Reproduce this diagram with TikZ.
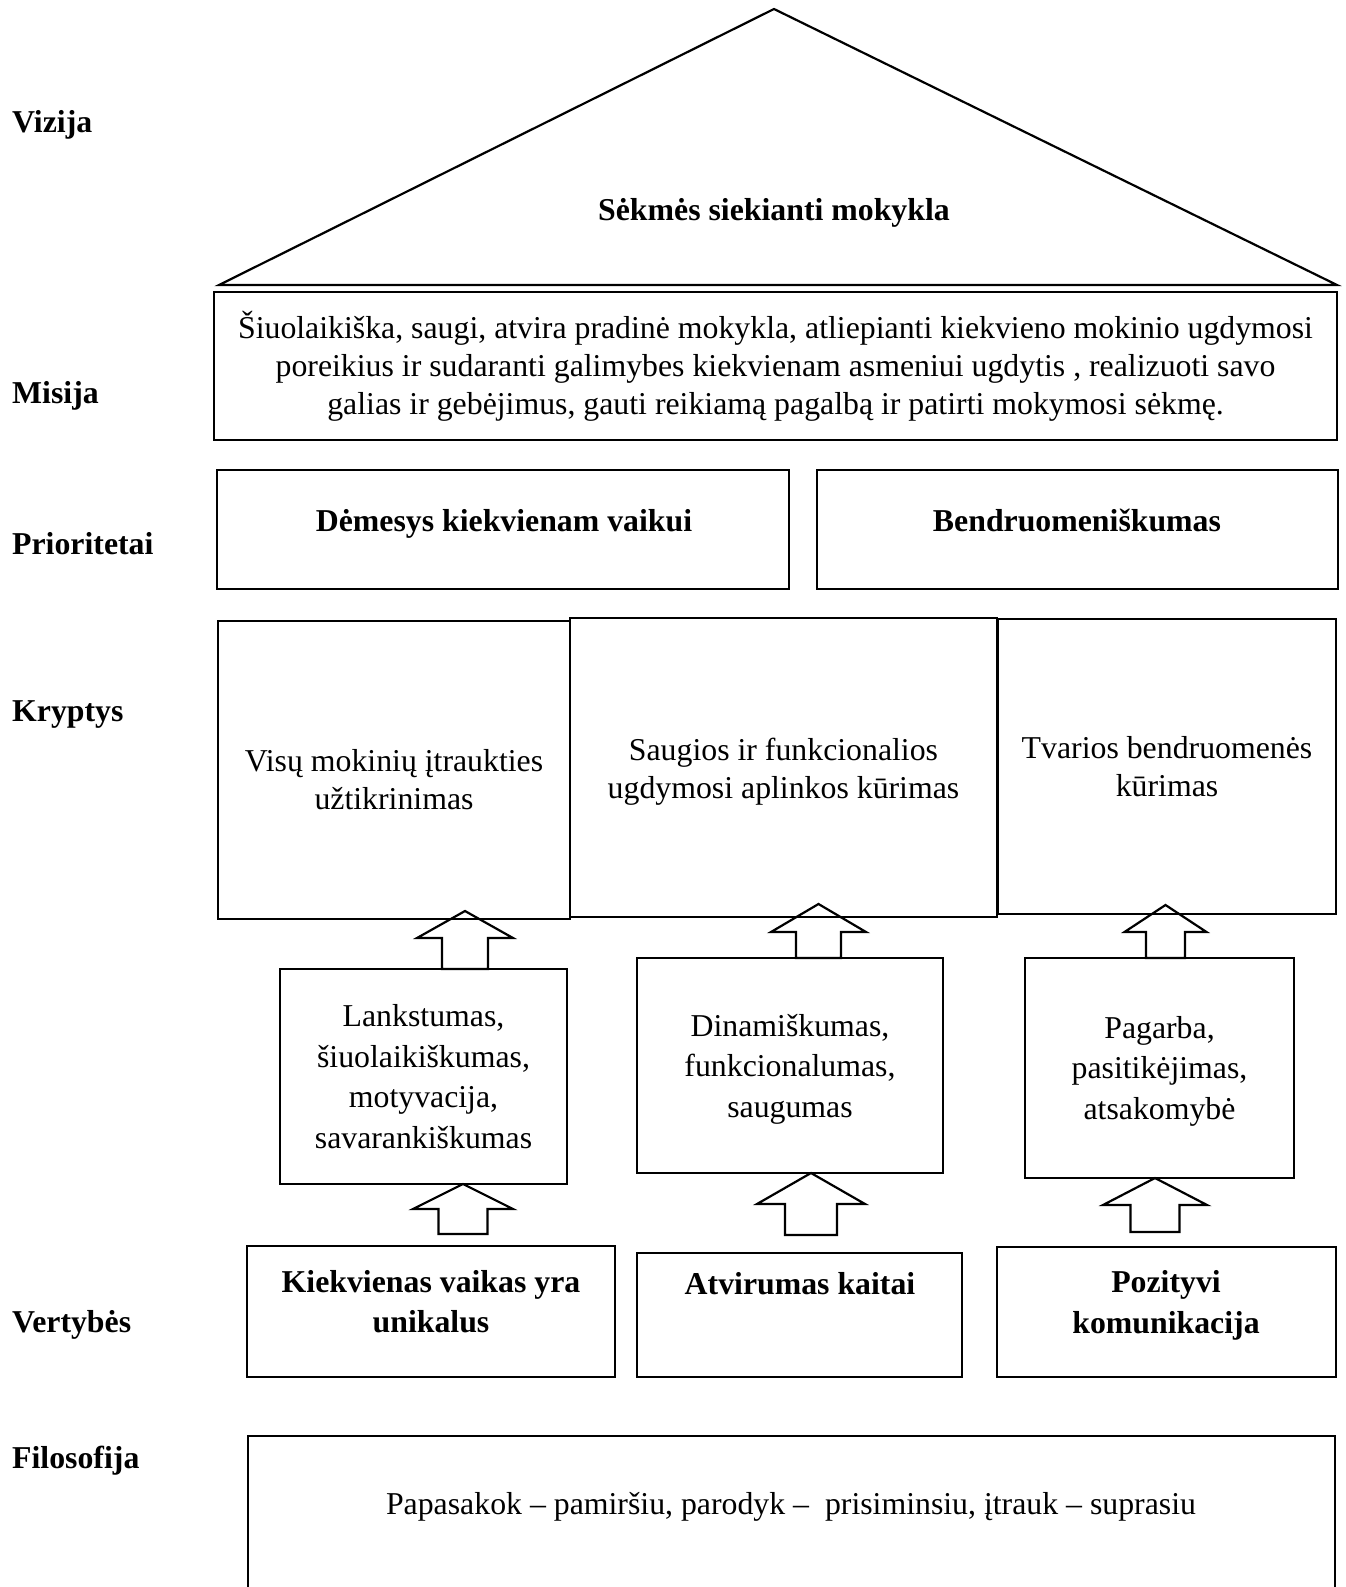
\documentclass[tikz,border=0pt]{standalone}
\usepackage{fontspec}
\setmainfont{Liberation Serif}

\begin{document}
\begin{tikzpicture}[x=1pt, y=-1pt,
  box/.style = {draw, line width=2.2pt, inner sep=0pt, outer sep=0pt, align=center, font=\fontsize{31.8}{38}\selectfont},
  vals/.style = {box, font=\fontsize{31.8}{40.5}\selectfont},
  txt/.style = {align=center, inner sep=0pt, font=\fontsize{31.8}{38}\selectfont},
  vtxt/.style = {txt, font=\fontsize{31.8}{40.5}\selectfont},
  bold/.style = {txt, font=\fontsize{31.8}{40.5}\selectfont\bfseries},
  side/.style = {bold, anchor=west},
  blk/.style = {line width=2.2pt}]
\useasboundingbox (0,0) rectangle (1345,1587);
\clip (0,0) rectangle (1345,1587);

\coordinate (r1) at (219,285);
\coordinate (r2) at (774,9);
\coordinate (r3) at (1337,285);
\draw[blk] (r1) -- (r2) -- (r3) -- cycle;
\node[bold] (vizija) at (774,213) {Sėkmės siekianti mokykla};

\node[box, minimum width=1123, minimum height=148] (misija) at (775.5,366) {Šiuolaikiška, saugi, atvira pradinė mokykla, atliepianti kiekvieno mokinio ugdymosi\\ poreikius ir sudaranti galimybes kiekvienam asmeniui ugdytis , realizuoti savo\\ galias ir gebėjimus, gauti reikiamą pagalbą ir patirti mokymosi sėkmę.};

\node[box, minimum width=572, minimum height=119] (p1) at (503,529.5) {};
\node[bold] (tp1) at (504,524) {Dėmesys kiekvienam vaikui};
\node[box, minimum width=521, minimum height=119] (p2) at (1077.5,529.5) {};
\node[bold] (tp2) at (1077,520) {Bendruomeniškumas};

\node[box, minimum width=352, minimum height=298] (k1) at (394,770) {};
\node[txt] (tk1) at (394,779.5) {Visų mokinių įtraukties\\ užtikrinimas};
\node[box, minimum width=427, minimum height=299] (k2) at (783.5,767.5) {};
\node[txt] (tk2) at (783.5,772) {Saugios ir funkcionalios\\ ugdymosi aplinkos kūrimas};
\node[box, minimum width=338, minimum height=295] (k3) at (1167,766.5) {Tvarios bendruomenės\\ kūrimas};

\node[vals, minimum width=287, minimum height=215] (v1) at (423.5,1076.5) {Lankstumas,\\ šiuolaikiškumas,\\ motyvacija,\\ savarankiškumas};
\node[vals, minimum width=306, minimum height=215] (v2) at (790,1065.5) {};
\node[vtxt] (tv2) at (790,1069) {Dinamiškumas,\\ funkcionalumas,\\ saugumas};
\node[vals, minimum width=269, minimum height=220] (v3) at (1159.5,1068) {};
\node[vtxt] (tv3) at (1159.5,1071) {Pagarba,\\ pasitikėjimas,\\ atsakomybė};

\node[box, minimum width=368, minimum height=131] (b1) at (431,1311.5) {};
\node[bold] (tb1) at (431,1301.5) {Kiekvienas vaikas yra\\ unikalus};
\node[box, minimum width=325, minimum height=124] (b2) at (799.5,1315) {};
\node[bold] (tb2) at (800,1284) {Atvirumas kaitai};
\node[box, minimum width=339, minimum height=130] (b3) at (1166.5,1312) {};
\node[bold] (tb3) at (1166,1305.5) {Pozityvi\\ komunikacija};

\node[box, minimum width=1087, minimum height=204] (fil) at (791.5,1538) {};
\node[txt] (tfil) at (791,1507) {Papasakok – pamiršiu, parodyk –\ \ prisiminsiu, įtrauk – suprasiu};

\node[side] (l1) at (12,125) {Vizija};
\node[side] (l2) at (12,396) {Misija};
\node[side] (l3) at (12,544) {Prioritetai};
\node[side] (l4) at (12,715) {Kryptys};
\node[side] (l5) at (12,1325) {Vertybės};
\node[side] (l6) at (12,1461) {Filosofija};

\coordinate (a1) at (465,0 |- v1.north);
\coordinate (a2) at (818.5,0 |- v2.north);
\coordinate (a3) at (1165.5,0 |- v3.north);
\draw[blk] (a1) -- ++(-23,0) -- ++(0,-31) -- ++(-25,0) -- ++(48,-27) -- ++(48,27) -- ++(-25,0) -- ++(0,31) -- cycle;
\draw[blk] (a2) -- ++(-22.5,0) -- ++(0,-26) -- ++(-25,0) -- ++(47.5,-28) -- ++(47.5,28) -- ++(-25,0) -- ++(0,26) -- cycle;
\draw[blk] (a3) -- ++(-19.5,0) -- ++(0,-26) -- ++(-21.5,0) -- ++(41,-27) -- ++(41,27) -- ++(-21.5,0) -- ++(0,26) -- cycle;

\coordinate (c1) at (463,0 |- v1.south);
\coordinate (c2) at (811,0 |- v2.south);
\coordinate (c3) at (1155,0 |- v3.south);
\draw[blk] (c1) -- ++(-50,25) -- ++(25.5,0) -- ++(0,25) -- ++(49,0) -- ++(0,-25) -- ++(25.5,0) -- cycle;
\draw[blk] (c2) -- ++(-54,31) -- ++(28,0) -- ++(0,31) -- ++(52,0) -- ++(0,-31) -- ++(28,0) -- cycle;
\draw[blk] (c3) -- ++(-52,27) -- ++(27.5,0) -- ++(0,27) -- ++(49,0) -- ++(0,-27) -- ++(27.5,0) -- cycle;
\end{tikzpicture}
\end{document}
